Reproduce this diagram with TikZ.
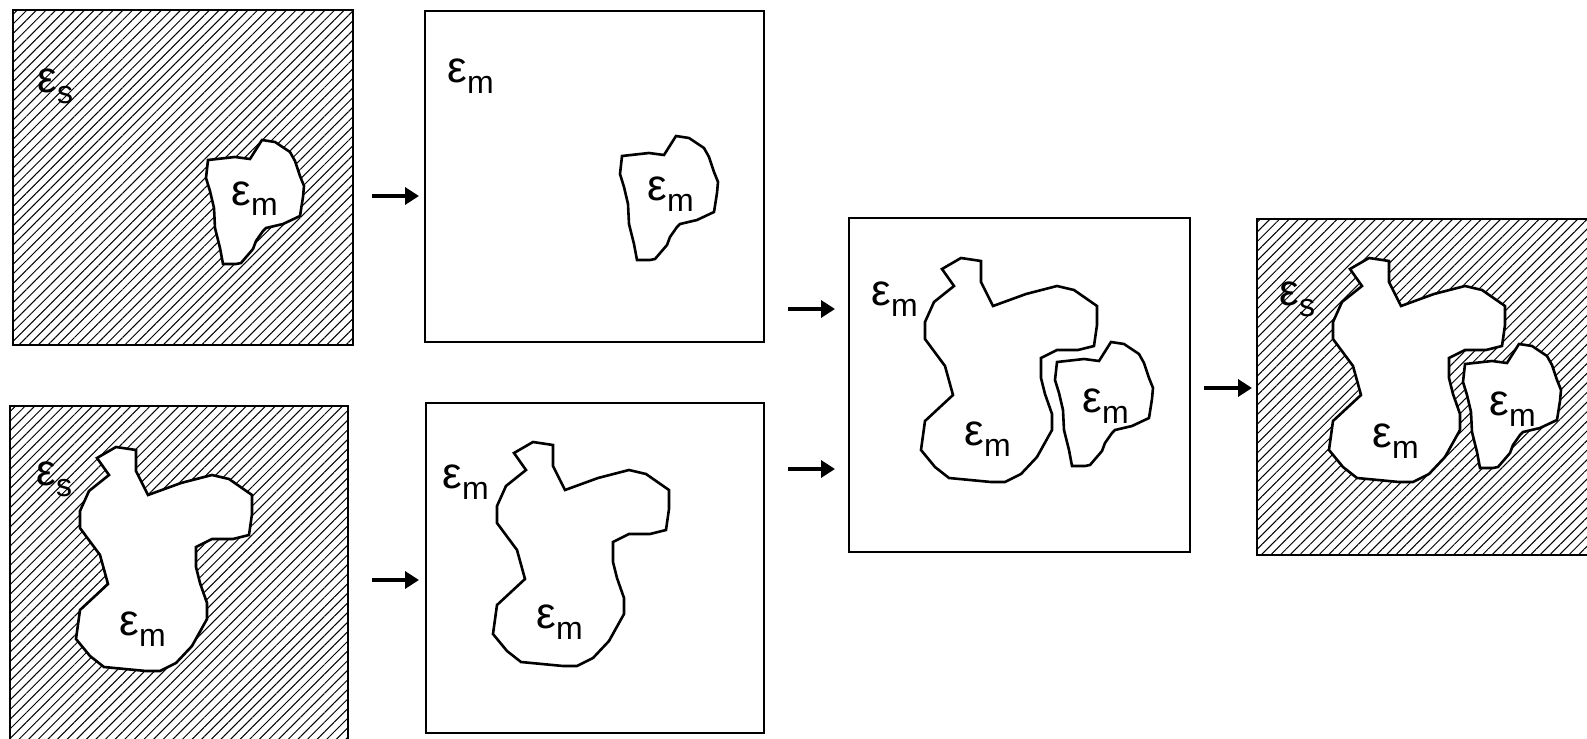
\documentclass[tikz,border=0pt]{standalone}
\usepackage{fontspec}
\setmainfont{Liberation Sans}
\usetikzlibrary{patterns.meta,arrows.meta}

% permittivity label: epsilon with a lowered index
\newcommand{\perm}[1]{{\fontsize{22}{22}\selectfont ε}\raisebox{-5.5pt}{\fontsize{16}{16}\selectfont #1}}

\begin{document}
\begin{tikzpicture}[x=0.5pt,y=-0.5pt,
    panel/.style={draw,line width=1.3pt},
    hatched/.style={panel,pattern={Lines[angle=45,distance=3.4pt,line width=0.5pt]}},
    grain/.style={draw,fill=white,line width=1.3pt},
    flow/.style={-{Triangle[length=7pt,width=8.5pt]},line width=1.75pt},
    lbl/.style={anchor=base west,inner sep=0pt},
    small grain/.pic={
        \path[grain] (0,0) -- (27,-3) -- (42,-1) -- (54,-20) -- (67,-18) -- (82,-8) -- (87,1)
            -- (92,16) -- (96,26) -- (95,37) -- (92,56) -- (75,64) -- (58,68) -- (55,71)
            -- (48,81) -- (45,89) -- (33,103) -- (28,104) -- (15,104) -- (12,88) -- (7,68)
            -- (6,48) -- (2,31) -- (-2,18) -- cycle;},
    big grain/.pic={
        \path[grain] (0,0) -- (19,-11) -- (39,-8) -- (39,13) -- (51,37) -- (84,25) -- (115,17)
            -- (132,21) -- (155,37) -- (155,56) -- (152,77) -- (136,81) -- (115,81) -- (99,89)
            -- (99,109) -- (103,125) -- (110,145) -- (110,161) -- (95,188) -- (79,205)
            -- (63,213) -- (49,213) -- (7,209) -- (-7,198) -- (-21,181) -- (-17,152)
            -- (11,126) -- (3,97) -- (-17,70) -- (-17,53) -- (-8,33) -- (12,17) -- cycle;}]
    \clip (0,0) rectangle (1587,739);

    % left column: sample and matrix with one small inclusion
    \draw[hatched] (13,10) rectangle (353,345);
    \pic at (208,160) {small grain};
    \node[lbl] (s1) at (37,92) {\perm{s}};
    \node[lbl] (m1) at (231,205) {\perm{m}};

    \draw[panel] (425,11) rectangle (764,342);
    \pic at (622,156) {small grain};
    \node[lbl] (m2) at (447,83) {\perm{m}};
    \node[lbl] (m2g) at (647,200) {\perm{m}};

    % left column: sample and matrix with the large inclusion
    \draw[hatched] (10,406) rectangle (348,741);
    \pic at (97,458) {big grain};
    \node[lbl] (s3) at (36,485) {\perm{s}};
    \node[lbl] (m3) at (119,635) {\perm{m}};

    \draw[panel] (426,403) rectangle (764,733);
    \pic at (514,453) {big grain};
    \node[lbl] (m4) at (442,488) {\perm{m}};
    \node[lbl] (m4g) at (536,628) {\perm{m}};

    % both inclusions together
    \draw[panel] (849,218) rectangle (1190,552);
    \pic at (942,269) {big grain};
    \pic at (1057,362) {small grain};
    \node[lbl] (m5) at (871,305) {\perm{m}};
    \node[lbl] (m5b) at (964,445) {\perm{m}};
    \node[lbl] (m5s) at (1082,412) {\perm{m}};

    \draw[hatched] (1257,219) rectangle (1597,555);
    \pic at (1350,269) {big grain};
    \pic at (1465,364) {small grain};
    \node[lbl] (s6) at (1279,305) {\perm{s}};
    \node[lbl] (m6b) at (1372,447) {\perm{m}};
    \node[lbl] (m6s) at (1489,415) {\perm{m}};

    % arrows
    \coordinate (a1s) at (372,196); \coordinate (a1e) at (419,196);
    \coordinate (a2s) at (372,580); \coordinate (a2e) at (419,580);
    \coordinate (a3s) at (788,309); \coordinate (a3e) at (835,309);
    \coordinate (a4s) at (788,469); \coordinate (a4e) at (835,469);
    \coordinate (a5s) at (1204,388); \coordinate (a5e) at (1252,388);
    \draw[flow] (a1s) -- (a1e);
    \draw[flow] (a2s) -- (a2e);
    \draw[flow] (a3s) -- (a3e);
    \draw[flow] (a4s) -- (a4e);
    \draw[flow] (a5s) -- (a5e);
\end{tikzpicture}
\end{document}
